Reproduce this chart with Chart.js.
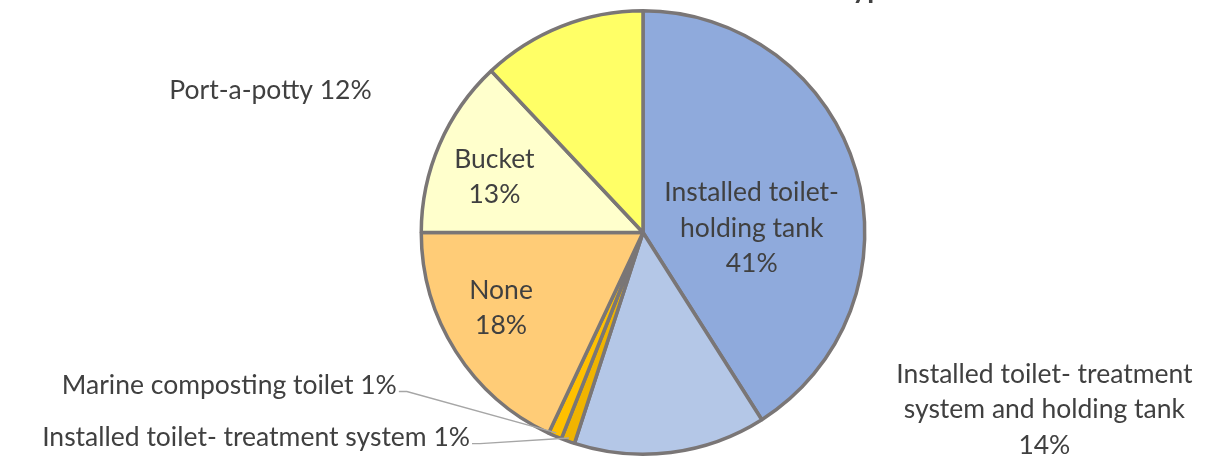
<!DOCTYPE html>
<html>
<head>
<meta charset="utf-8">
<script src="https://cdn.jsdelivr.net/npm/chart.js@4.4.1/dist/chart.umd.min.js"></script>
<style>
  html, body { margin: 0; padding: 0; background: #fff; }
  .chart-container { width: 1206px; height: 460px; position: relative; }
</style>
</head>
<body>
<div class='chart-container'><canvas id='chart'></canvas></div>
<script>
const categories = [
  'Installed toilet- holding tank',
  'Installed toilet- treatment system and holding tank',
  'Installed toilet- treatment system',
  'Marine composting toilet',
  'None',
  'Bucket',
  'Port-a-potty',
]
const shares = [41, 14, 1, 1, 18, 13, 12]
const labelLines = [
  ['Installed toilet-', 'holding tank', '41%'],
  ['Installed toilet- treatment', 'system and holding tank', '14%'],
  ['Installed toilet- treatment system 1%'],
  ['Marine composting toilet 1%'],
  ['None', '18%'],
  ['Bucket', '13%'],
  ['Port-a-potty 12%'],
]
const sliceColors = ['#8FAADC', '#B4C7E7', '#F0B400', '#FFC000', '#FFCC77', '#FFFFCC', '#FFFF66']

// label anchors, relative to pie centre in radius units; leader = draw line to slice
const labelLayout = [
  { fx: 0.49, fy: -0.02, align: 'center' },
  { fx: 1.81, fy: 0.80, align: 'center' },
  { fx: -0.78, fy: 0.925, align: 'right', leader: true },
  { fx: -1.11, fy: 0.69, align: 'right', leader: true },
  { fx: -0.64, fy: 0.34, align: 'center' },
  { fx: -0.67, fy: -0.25, align: 'center' },
  { fx: -1.68, fy: -0.64, align: 'center' },
]

const FONT = '26.5px Lato, "Open Sans", sans-serif'
const LINE_H = 35.5

const pieLabels = {
  id: 'pieLabels',
  afterDatasetsDraw(chart) {
    const { ctx } = chart
    const arcs = chart.getDatasetMeta(0).data
    if (!arcs.length) return
    const cx = arcs[0].x
    const cy = arcs[0].y
    const r = arcs[0].outerRadius
    ctx.save()
    ctx.font = FONT
    ctx.fillStyle = '#404040'
    ctx.textBaseline = 'middle'
    arcs.forEach((arc, i) => {
      const lay = labelLayout[i]
      const lines = labelLines[i]
      const ax = cx + lay.fx * r
      const ay = cy + lay.fy * r
      ctx.textAlign = lay.align
      const top = ay - (lines.length - 1) * LINE_H / 2
      lines.forEach((t, k) => ctx.fillText(t, ax, top + k * LINE_H))
      if (lay.leader) {
        const mid = (arc.startAngle + arc.endAngle) / 2
        const ex = cx + Math.cos(mid) * r * 0.985
        const ey = cy + Math.sin(mid) * r * 0.985
        ctx.strokeStyle = '#A6A6A6'
        ctx.lineWidth = 1.3
        ctx.beginPath()
        ctx.moveTo(ax + 2, ay + 6)
        ctx.lineTo(ax + 10, ay + 6)
        ctx.lineTo(ex, ey)
        ctx.stroke()
      }
    })
    // title sits mostly above the visible frame
    ctx.font = 'bold 28px Lato, "Open Sans", sans-serif'
    ctx.fillStyle = '#404040'
    ctx.textAlign = 'right'
    ctx.textBaseline = 'alphabetic'
    ctx.fillText('Toilet Type', 898, -2)
    ctx.restore()
  },
}

new Chart(document.getElementById('chart'), {
  type: 'pie',
  data: {
    labels: categories,
    datasets: [{
      data: shares,
      backgroundColor: sliceColors,
      borderColor: '#7A7676',
      borderWidth: 3.5,
    }],
  },
  options: {
    responsive: true,
    maintainAspectRatio: false,
    animation: false,
    layout: { padding: { top: 9, bottom: 4, left: 80, right: 0 } },
    plugins: {
      legend: { display: false },
      tooltip: { enabled: false },
    },
  },
  plugins: [pieLabels],
})
</script>
</body>
</html>
